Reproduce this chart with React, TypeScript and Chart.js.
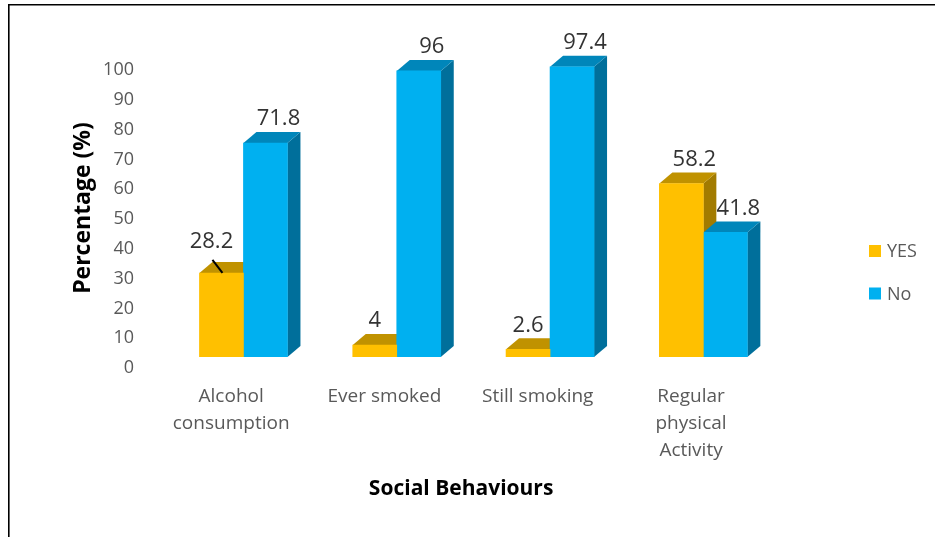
import React, { useEffect, useRef } from 'react';
import { Chart, registerables } from 'chart.js';

Chart.register(...registerables);

// ---- data ----
const categories: string[][] = [
  ['Alcohol', 'consumption'],
  ['Ever smoked'],
  ['Still smoking'],
  ['Regular', 'physical', 'Activity'],
];
const seriesNames = ['YES', 'No'];
const yesValues = [28.2, 4, 2.6, 58.2];
const noValues = [71.8, 96, 97.4, 41.8];
const yMin = 0;
const yMax = 100;
const yStep = 10;

// ---- styles ----
const FONT = "'Open Sans', sans-serif";
const frontColors = ['#FFC000', '#00B0F0'];
const topColors = ['#C09200', '#0086BA'];
const sideColors = ['#A27B00', '#006F9B'];
const DX = 13;
const DY = -11;

const bar3dPlugin = {
  id: 'bar3d',
  beforeDraw(chart: any) {
    const ctx = chart.ctx;
    ctx.save();
    ctx.strokeStyle = '#000';
    ctx.lineWidth = 1.6;
    ctx.beginPath();
    ctx.moveTo(8.8, chart.height);
    ctx.lineTo(8.8, 4.8);
    ctx.lineTo(chart.width, 4.8);
    ctx.stroke();
    ctx.restore();
  },
  beforeDatasetsDraw(chart: any) {
    const ctx = chart.ctx;
    chart.data.datasets.forEach((_ds: any, di: number) => {
      const meta = chart.getDatasetMeta(di);
      meta.data.forEach((el: any) => {
        const { x, y, base, width } = el.getProps(['x', 'y', 'base', 'width'], true);
        const L = x - width / 2;
        const R = x + width / 2;
        ctx.save();
        ctx.fillStyle = sideColors[di];
        ctx.beginPath();
        ctx.moveTo(R, y);
        ctx.lineTo(R + DX, y + DY);
        ctx.lineTo(R + DX, base + DY);
        ctx.lineTo(R, base);
        ctx.closePath();
        ctx.fill();
        ctx.fillStyle = topColors[di];
        ctx.beginPath();
        ctx.moveTo(L, y);
        ctx.lineTo(R, y);
        ctx.lineTo(R + DX, y + DY);
        ctx.lineTo(L + DX, y + DY);
        ctx.closePath();
        ctx.fill();
        ctx.restore();
      });
    });
  },
  afterDatasetsDraw(chart: any) {
    const ctx = chart.ctx;
    ctx.save();
    ctx.font = `22px ${FONT}`;
    ctx.fillStyle = '#333333';
    ctx.textAlign = 'center';
    ctx.textBaseline = 'middle';
    const datasets = chart.data.datasets;
    datasets.forEach((ds: any, di: number) => {
      const meta = chart.getDatasetMeta(di);
      meta.data.forEach((el: any, i: number) => {
        const { x, y } = el.getProps(['x', 'y'], true);
        const v = ds.data[i].y;
        let lx = x + DX;
        let ly = y + DY - 13;
        if (di === 0) {
          const other = datasets[1].data[i].y;
          if (other > v) lx = x;
        }
        if (di === 0 && i === 0) {
          // manually placed label with leader line
          lx = x - 10;
          ly = y - 31;
          ctx.save();
          ctx.strokeStyle = '#000';
          ctx.lineWidth = 2;
          ctx.beginPath();
          ctx.moveTo(x - 9, y - 13);
          ctx.lineTo(x + 1, y);
          ctx.stroke();
          ctx.restore();
        }
        ctx.fillText(String(v), lx, ly);
      });
    });
    ctx.restore();

    // legend
    ctx.save();
    ctx.font = `18px ${FONT}`;
    ctx.textAlign = 'left';
    ctx.textBaseline = 'middle';
    const legendY = [251, 293.5];
    datasets.forEach((ds: any, di: number) => {
      ctx.fillStyle = frontColors[di];
      ctx.fillRect(869, legendY[di] - 6, 12, 12);
      ctx.fillStyle = '#595959';
      ctx.fillText(ds.label, 887, legendY[di] + 1);
    });
    ctx.restore();
  },
};

export default function App() {
  const canvasRef = useRef<HTMLCanvasElement | null>(null);

  useEffect(() => {
    let chart: Chart | null = null;
    let cancelled = false;
    const build = () => {
      if (cancelled || !canvasRef.current) return;
      const shift = 12.3 / 153.3;
      chart = new Chart(canvasRef.current, {
        type: 'bar',
        data: {
          labels: categories as any,
          datasets: [
            {
              label: seriesNames[0],
              data: yesValues.map((v, i) => ({ x: i, y: v })),
              backgroundColor: frontColors[0],
              borderWidth: 0,
              barThickness: 44,
              xAxisID: 'xb',
              yAxisID: 'y',
            },
            {
              label: seriesNames[1],
              data: noValues.map((v, i) => ({ x: i, y: v })),
              backgroundColor: frontColors[1],
              borderWidth: 0,
              barThickness: 44,
              xAxisID: 'xb',
              yAxisID: 'y',
            },
          ] as any,
        },
        options: {
          animation: false,
          responsive: false,
          devicePixelRatio: 1,
          layout: { padding: { left: 0, right: 167.3, top: 59, bottom: 0 } },
          plugins: {
            legend: { display: false },
            tooltip: { enabled: false },
          },
          scales: {
            xb: {
              type: 'linear',
              display: false,
              offset: false,
              min: -0.5 - shift,
              max: categories.length - 0.5 - shift,
              grid: { display: false },
            },
            x: {
              type: 'category',
              position: 'bottom',
              offset: true,
              grid: { display: false, drawTicks: false },
              border: { display: false },
              ticks: {
                padding: 26,
                maxRotation: 0,
                autoSkip: false,
                color: '#595959',
                font: { family: FONT, size: 19, lineHeight: 27 / 19 },
              },
              title: {
                display: true,
                text: 'Social Behaviours',
                color: '#000000',
                font: { family: FONT, size: 21, weight: 'bold', lineHeight: 1.2 },
                padding: { top: 0, bottom: 35 },
              },
              afterFit: (scale: any) => {
                scale.height = 180;
              },
            } as any,
            y: {
              type: 'linear',
              min: yMin,
              max: yMax,
              grid: { display: false, drawTicks: false },
              border: { display: false },
              ticks: {
                stepSize: yStep,
                padding: 20.5,
                labelOffset: 11,
                color: '#595959',
                font: { family: FONT, size: 18 },
              },
              title: {
                display: true,
                text: 'Percentage (%)',
                color: '#000000',
                font: { family: FONT, size: 23, weight: 'bold', lineHeight: 1.2 },
                padding: { top: 70, bottom: 0 },
              },
              afterFit: (scale: any) => {
                scale.width = 154.5;
              },
            } as any,
          },
        },
        plugins: [bar3dPlugin],
      });
    };
    const fonts = (document as any).fonts;
    if (fonts && fonts.load) {
      Promise.all([
        fonts.load(`18px 'Open Sans'`),
        fonts.load(`bold 21px 'Open Sans'`),
      ]).then(build, build);
    } else {
      build();
    }
    return () => {
      cancelled = true;
      if (chart) chart.destroy();
    };
  }, []);

  return (
    <div style={{ position: 'absolute', left: 0, top: 0, width: 935, height: 537, background: '#fff' }}>
      <canvas ref={canvasRef} width={935} height={537} />
    </div>
  );
}
